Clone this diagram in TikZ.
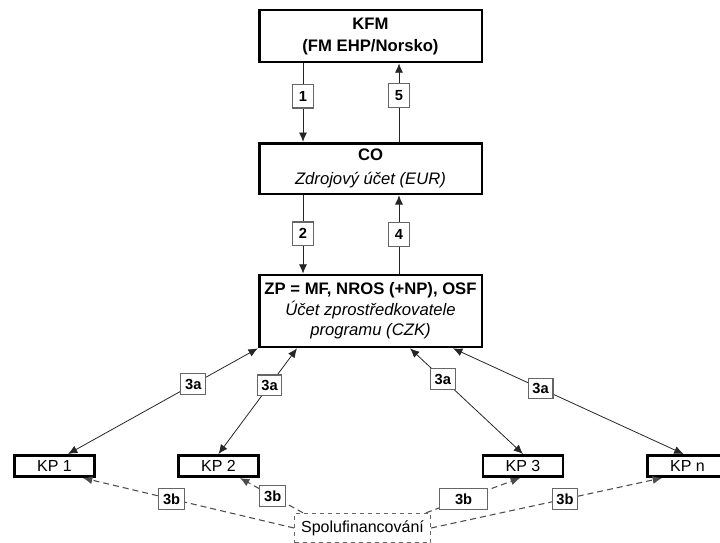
\documentclass[tikz,border=0pt]{standalone}
\usepackage{fontspec}
\setmainfont{Liberation Sans}
\usetikzlibrary{arrows.meta,calc}

\tikzset{
  hlavni/.style={draw, line width=2pt, minimum width=167pt, align=center,
    inner sep=2pt, font=\fontsize{12.5}{15.5}\selectfont},
  kp/.style={draw, line width=2pt, minimum width=60pt, minimum height=16pt,
    inner sep=0pt, font=\fontsize{12}{14}\selectfont},
  stitek/.style={draw=black!60, solid, text=black, line width=0.8pt, fill=white,
    inner xsep=3.2pt, inner ysep=2pt, minimum width=16pt, minimum height=15.5pt,
    font=\bfseries\fontsize{11}{13}\selectfont},
  cislo/.style={stitek, minimum height=17.5pt},
  spol/.style={draw=black!60, dashed, line width=0.8pt, minimum width=102pt,
    minimum height=22pt, inner sep=0pt, font=\fontsize{12}{14}\selectfont},
  tok/.style={line width=0.6pt, black!85},
  tok3b/.style={line width=0.8pt, black!70, dash pattern=on 4.5pt off 3pt}
}

\begin{document}
\begin{tikzpicture}[x=0.75pt, y=-0.75pt, >={Latex[length=7pt,width=6pt]}]
  \useasboundingbox (0,0) rectangle (720,542);

  \node[hlavni, minimum height=39pt] (kfm) at (370.5,36)
    {\textbf{KFM}\\[1pt]\textbf{(FM EHP/Norsko)}};
  \node[hlavni, minimum height=38pt] (co) at (370.5,168.5)
    {\textbf{CO}\\[3pt]\textit{Zdrojov\'y \'u\v{c}et (EUR)}};
  \node[hlavni, minimum height=54pt] (zp) at (370.5,311)
    {\textbf{ZP = MF, NROS (+NP), OSF}\\\textit{\'U\v{c}et zprost\v{r}edkovatele}\\\textit{programu (CZK)}};

  \node[kp] (kp1) at (54.5,466) {KP 1};
  \node[kp] (kp2) at (218.5,466) {KP 2};
  \node[kp] (kp3) at (523,466) {KP 3};
  \node[kp] (kpn) at (687.5,466) {KP n};

  \node[spol] (spol) at (362.5,528) {Spolufinancov\'an\'i};

  % toky
  \begin{scope}[tok]
    \draw[->] ($(kfm.south)+(-67.5,0)$) -- ($(co.north)+(-67.5,0)$) node[cislo, pos=0.42] {1};
    \draw[->] ($(co.north)+(28.5,0)$) -- ($(kfm.south)+(28.5,0)$) node[cislo, pos=0.59] {5};
    \draw[->] ($(co.south)+(-67.5,0)$) -- ($(zp.north)+(-67.5,0)$) node[cislo, pos=0.49] {2};
    \draw[->] ($(zp.north)+(28.5,0)$) -- ($(co.south)+(28.5,0)$) node[cislo, pos=0.5] {4};

    \draw[<->] (zp.south west) -- ($(kp1.north)+(13.5,0)$) node[stitek, pos=0.34] {3a};
    \draw[<->] ($(zp.south)+(-73.5,0)$) -- (kp2.north) node[stitek, pos=0.35] {3a};
    \draw[<->] ($(zp.south)+(39.5,0)$) -- (kp3.north) node[stitek, pos=0.29] {3a};
    \draw[<->] ($(zp.south)+(82.5,0)$) -- ($(kpn.north)+(-4,0)$) node[stitek, pos=0.38] {3a};
  \end{scope}

  % spolufinancovani
  \begin{scope}[tok3b]
    \draw[->] (spol.west) -- ($(kp1.south)+(28.5,0)$) node[stitek, pos=0.58] {3b};
    \draw[->] ($(spol.north west)+(9,0)$) -- ($(kp2.south)+(21.5,0)$) node[stitek, pos=0.48] {3b};
    \draw[->] ($(spol.north east)+(-5,0)$) -- ($(kp3.south)+(-3,0)$) node[stitek, minimum width=36pt, pos=0.4] {3b};
    \draw[->] (spol.east) -- ($(kpn.south)+(-25.5,0)$) node[stitek, pos=0.58] {3b};
  \end{scope}

\end{tikzpicture}
\end{document}
